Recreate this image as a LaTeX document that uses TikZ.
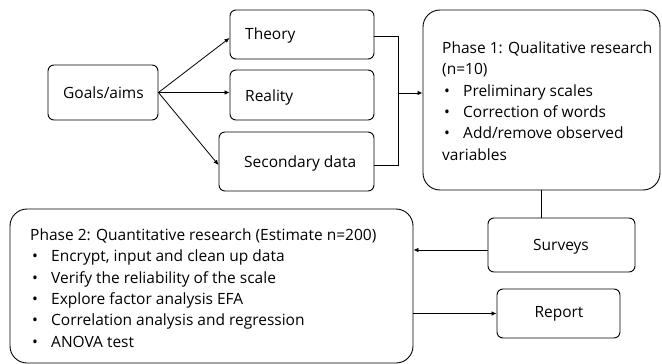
\documentclass[tikz,border=0pt]{standalone}
\usepackage{fontspec}
\setmainfont{Open Sans}
\usetikzlibrary{arrows.meta}
\newcommand{\bul}{\makebox[21pt][l]{\hspace{2pt}\textbullet}}
\tikzset{
  box/.style={draw, rounded corners=6pt, line width=0.9pt, inner sep=0pt},
  bigbox/.style={draw, rounded corners=17pt, line width=0.9pt, inner sep=0pt},
  lbl/.style={inner sep=0pt, font=\fontsize{15.5}{21.3}\selectfont},
  para/.style={inner sep=0pt, align=left, font=\fontsize{15.5}{21.3}\selectfont},
  arr/.style={line width=0.8pt, -{Latex[length=5pt,width=4.5pt]}},
  ln/.style={line width=0.8pt}
}
\begin{document}
\begin{tikzpicture}[x=1pt,y=-1pt]
\useasboundingbox (0,0) rectangle (662,364);
% boxes
\node[box, minimum width=110pt, minimum height=55pt] (goals) at (103,92.5) {};
\node[lbl] (goalst) at (103.5,93) {Goals/aims};
\node[box, minimum width=144pt, minimum height=49pt] (theory) at (302,34.5) {};
\node[lbl, anchor=west] (theoryt) at (245,35) {Theory};
\node[box, minimum width=144pt, minimum height=50pt] (reality) at (302,95) {};
\node[lbl, anchor=west] (realityt) at (245,97) {Reality};
\node[box, minimum width=155pt, minimum height=59pt] (secondary) at (296.5,161.5) {};
\node[lbl, anchor=west] (secondaryt) at (244,163) {Secondary data};
\node[bigbox, minimum width=237pt, minimum height=180pt] (phase1) at (541.5,100) {};
\node[para, anchor=west] (phase1t) at (442,101) {Phase 1: Qualitative research\\
(n=10)\\
\bul Preliminary scales\\
\bul Correction of words\\
\bul Add/remove observed\\
variables};
\node[box, minimum width=147pt, minimum height=54pt] (surveys) at (561.5,245) {};
\node[lbl] (surveyst) at (561,247) {Surveys};
\node[box, minimum width=123pt, minimum height=49pt] (report) at (558.5,313.5) {};
\node[lbl] (reportt) at (559,314) {Report};
\node[bigbox, minimum width=403pt, minimum height=154pt] (phase2) at (211.5,286) {};
\node[para, anchor=west] (phase2t) at (30,288) {Phase 2: Quantitative research (Estimate n=200)\\
\bul Encrypt, input and clean up data\\
\bul Verify the reliability of the scale\\
\bul Explore factor analysis EFA\\
\bul Correlation analysis and regression\\
\bul ANOVA test};
% connectors
\coordinate (j) at (398,93);
\draw[arr] (goals.east) -- ([yshift=-3.5pt]theory.west);
\draw[arr] (goals.east) -- (goals.east -| reality.west);
\draw[arr] (goals.east) -- ([yshift=-3.5pt]secondary.west);
\draw[ln] ([yshift=-2pt]theory.east) -| (j);
\draw[ln] ([yshift=-4pt]secondary.east) -| (j);
\draw[arr] (j) -- (j -| phase1.west);
\draw[ln] (phase1.south) -- (phase1.south |- surveys.north);
\draw[arr] ([yshift=-5pt]surveys.west) -- ([yshift=-5pt]surveys.west -| phase2.east);
\draw[arr] (report.west -| phase2.east) -- (report.west);
\end{tikzpicture}
\end{document}
